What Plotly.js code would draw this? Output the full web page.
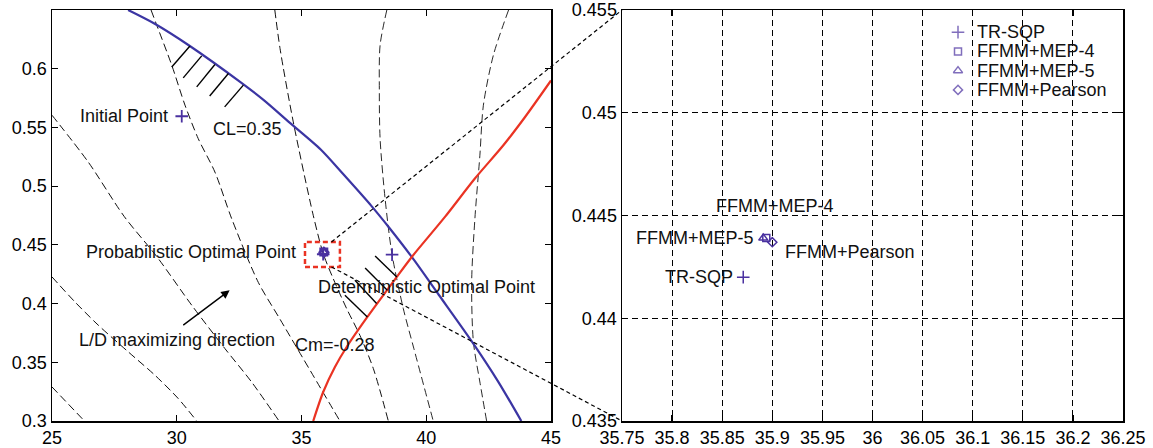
<!DOCTYPE html>
<html><head><meta charset="utf-8">
<script src="https://cdn.plot.ly/plotly-3.0.1.min.js"></script>
<style>html,body{margin:0;padding:0;background:#fff}#chart{width:1153px;height:448px}</style>
</head><body><div id="chart"></div>
<script>
// ---------- DATA ----------
// Lift constraint CL = 0.35 (blue)
const clX = [28.05, 29.1, 30.48, 32.62, 33.5, 34.5, 35.77, 36.66, 37.8, 38.5, 39.42, 40.5, 41.9, 42.87, 43.81];
const clY = [0.65, 0.6385, 0.62, 0.5875, 0.573, 0.5545, 0.5312, 0.5105, 0.4832, 0.465, 0.4397, 0.4075, 0.3655, 0.334, 0.30];
// Moment constraint Cm = -0.28 (red)
const cmX = [35.47, 35.87, 36.34, 36.81, 37.64, 38.82, 39.42, 40.75, 41.95, 43.09, 43.96, 45.0];
const cmY = [0.30, 0.3247, 0.346, 0.363, 0.3886, 0.4227, 0.4397, 0.4738, 0.5065, 0.5348, 0.5589, 0.590];
// L/D contours (dashed, shallow)
const ld1X = [25, 26.3];               const ld1Y = [0.329, 0.30];
const ld2X = [25, 25.92, 26.86, 28.06, 29.13, 30.06, 30.8];
const ld2Y = [0.4227, 0.4014, 0.3815, 0.3588, 0.3389, 0.3191, 0.30];
const ld3X = [25, 26.45, 27.9, 29.2, 30.6, 31.93, 33.0, 34.1];
const ld3Y = [0.5604, 0.5206, 0.474, 0.440, 0.3986, 0.3617, 0.3332, 0.30];
// Cm contours (dashed, steep)
const c1X = [28.97, 29.2, 29.8, 30.33, 30.86, 31.53, 32.2, 33.27, 34.13, 36.54];
const c1Y = [0.65, 0.637, 0.603, 0.569, 0.5405, 0.512, 0.4724, 0.418, 0.387, 0.30];
const c2X = [33.93, 34.14, 34.67, 35.47, 35.87, 36.27, 36.81, 37.34, 37.88, 38.48];
const c2Y = [0.65, 0.6172, 0.5547, 0.4752, 0.4426, 0.4213, 0.3957, 0.373, 0.3446, 0.30];
const c3X = [38.42, 38.15, 38.12, 38.15, 38.35, 38.63, 39.08, 39.5, 40.28];
const c3Y = [0.65, 0.62, 0.58, 0.5405, 0.4894, 0.4417, 0.3957, 0.362, 0.30];
const c4X = [43.3, 42.69, 42.29, 42.15, 41.95, 41.82, 41.89, 42.15, 42.42];
const c4Y = [0.65, 0.6115, 0.5689, 0.5263, 0.4724, 0.4184, 0.3673, 0.3332, 0.30];
// Hatching marks on the constraints
const hatchUpX0 = [30.53, 31.0, 31.53, 32.07, 32.67];
const hatchUpY0 = [0.6194, 0.6109, 0.6036, 0.5959, 0.586];
const hatchUpX1 = [29.8, 30.26, 30.8, 31.32, 31.92];
const hatchUpY1 = [0.6015, 0.5922, 0.5845, 0.5768, 0.5675];
const hatchLoX0 = [37.95, 37.55, 37.14, 36.74];
const hatchLoY0 = [0.4405, 0.4303, 0.4198, 0.4071];
const hatchLoX1 = [38.82, 38.44, 38.01, 37.64];
const hatchLoY1 = [0.4227, 0.4113, 0.40, 0.3886];
// Points
const initialPoint = [30.2, 0.5595];
const deterministicPoint = [38.63, 0.4417];
const methods = ['TR-SQP', 'FFMM+MEP-4', 'FFMM+MEP-5', 'FFMM+Pearson'];
const methodX = [35.871, 35.894, 35.891, 35.900];
const methodY = [0.4420, 0.4439, 0.4439, 0.4437];
const methodSymbols = ['cross-thin-open', 'square-open', 'triangle-up-open', 'diamond-open'];
// Zoom box and arrow
const zoomBoxX = [35.14, 36.54];
const zoomBoxY = [0.4312, 0.4525];
const connectorStartX = 36.2;
const ldArrowTail = [30.2, 0.3807];
const ldArrowHead = [32.12, 0.4113];
// Axes / ticks
const leftXRange = [25, 45];
const leftYRange = [0.3, 0.65];
const leftXTicks = [25, 30, 35, 40, 45];
const leftYTicks = [0.3, 0.35, 0.4, 0.45, 0.5, 0.55, 0.6];
const leftYTickText = ['0.3', '0.35', '0.4', '0.45', '0.5', '0.55', '0.6'];
const rightXRange = [35.75, 36.25];
const rightYRange = [0.435, 0.455];
const rightXTicks = [35.75, 35.8, 35.85, 35.9, 35.95, 36, 36.05, 36.1, 36.15, 36.2, 36.25];
const rightXTickText = ['35.75', '35.8', '35.85', '35.9', '35.95', '36', '36.05', '36.1', '36.15', '36.2', '36.25'];
const rightYTicks = [0.435, 0.44, 0.445, 0.45, 0.455];
const rightYTickText = ['0.435', '0.44', '0.445', '0.45', '0.455'];

// ---------- STYLE ----------
const FONT = 'Liberation Sans, Arial, Helvetica, sans-serif';
const W = 1153, H = 448, PLOT_TOP = 10, PLOT_H = 411;
const leftDomain = [52 / W, 551 / W];
const rightDomain = [622 / W, 1123 / W];
const legendXDomain = [958 / W, 1100 / W];
const legendYDomain = [1 - (99.5 - PLOT_TOP) / PLOT_H, 1 - (22.5 - PLOT_TOP) / PLOT_H];
const PURPLE = '#4a31a0';
const BLUE = '#3b35a3';
const RED = '#ea3323';
const symSize = [9, 7, 8, 7];

function segs(x0, y0, x1, y1) {
  const xs = [], ys = [];
  for (let i = 0; i < x0.length; i++) { xs.push(x0[i], x1[i], null); ys.push(y0[i], y1[i], null); }
  return {xs, ys};
}
function dashed(x, y, w) {
  return {x, y, xaxis: 'x', yaxis: 'y', mode: 'lines', hoverinfo: 'skip',
    line: {color: '#111', width: w || 1, dash: '8px,4px', shape: 'spline', smoothing: 0.8}};
}

const traces = [];
traces.push(dashed(ld1X, ld1Y));
traces.push(dashed(ld2X, ld2Y));
traces.push(dashed(ld3X, ld3Y));
traces.push(dashed(c1X, c1Y));
traces.push(dashed(c2X, c2Y));
traces.push(dashed(c3X, c3Y, 0.9));
traces.push(dashed(c4X, c4Y, 0.9));
traces.push({x: clX, y: clY, xaxis: 'x', yaxis: 'y', mode: 'lines',
  line: {color: BLUE, width: 2.2, shape: 'spline', smoothing: 0.8}});
traces.push({x: cmX, y: cmY, xaxis: 'x', yaxis: 'y', mode: 'lines',
  line: {color: RED, width: 2.2, shape: 'spline', smoothing: 0.8}});
const hu = segs(hatchUpX0, hatchUpY0, hatchUpX1, hatchUpY1);
const hl = segs(hatchLoX0, hatchLoY0, hatchLoX1, hatchLoY1);
traces.push({x: hu.xs, y: hu.ys, xaxis: 'x', yaxis: 'y', mode: 'lines', line: {color: '#000', width: 1.4}});
traces.push({x: hl.xs, y: hl.ys, xaxis: 'x', yaxis: 'y', mode: 'lines', line: {color: '#000', width: 1.4}});
traces.push({x: [initialPoint[0], deterministicPoint[0]], y: [initialPoint[1], deterministicPoint[1]],
  xaxis: 'x', yaxis: 'y', mode: 'markers',
  marker: {symbol: 'cross-thin-open', size: 9, color: PURPLE, line: {color: PURPLE, width: 1.8}}});
// method points: left panel (overlapping star), right panel (zoom), and legend column
for (let i = 0; i < methods.length; i++) {
  traces.push({x: [methodX[i]], y: [methodY[i]], xaxis: 'x', yaxis: 'y', mode: 'markers',
    marker: {symbol: methodSymbols[i], size: symSize[i], color: PURPLE, line: {color: PURPLE, width: 2}}});
  traces.push({x: [methodX[i]], y: [methodY[i]], xaxis: 'x2', yaxis: 'y2', mode: 'markers', name: methods[i],
    marker: {symbol: methodSymbols[i], size: symSize[i], color: PURPLE, line: {color: PURPLE, width: 1.5}}});
}
traces.push({x: methods.map(() => 0), y: methods, xaxis: 'x3', yaxis: 'y3', mode: 'markers', cliponaxis: false,
  marker: {symbol: methodSymbols, size: symSize, color: PURPLE, line: {color: PURPLE, width: 1.5}}});

function axisStyle(extra) {
  return Object.assign({showline: true, linecolor: '#000', linewidth: 1.5, mirror: 'ticks', ticks: 'inside',
    ticklen: 6, tickwidth: 1.2, tickcolor: '#000', showgrid: false, zeroline: false,
    tickfont: {family: FONT, size: 18, color: '#000'}}, extra);
}
function px(dom, range, v) { return dom[0] + (v - range[0]) / (range[1] - range[0]) * (dom[1] - dom[0]); }
function py(range, v) { return (v - range[0]) / (range[1] - range[0]); }

const txt = (o) => Object.assign({showarrow: false, font: {family: FONT, size: 18, color: '#111'}}, o);
const annotations = [
  txt({xref: 'x', yref: 'y', x: initialPoint[0], y: initialPoint[1], xanchor: 'right', xshift: -12, text: 'Initial Point'}),
  txt({xref: 'x', yref: 'y', x: 31.37, y: 0.5484, xanchor: 'left', text: 'CL=0.35'}),
  txt({xref: 'x', yref: 'y', x: methodX[0], y: methodY[2], xanchor: 'right', xshift: -25, text: 'Probabilistic Optimal Point'}),
  txt({xref: 'x', yref: 'y', x: 35.58, y: 0.4141, xanchor: 'left', text: 'Deterministic Optimal Point'}),
  txt({xref: 'x', yref: 'y', x: 26.0, y: 0.3687, xanchor: 'left', text: 'L/D maximizing direction'}),
  txt({xref: 'x', yref: 'y', x: 34.67, y: 0.365, xanchor: 'left', text: 'Cm=-0.28'}),
  {xref: 'x', yref: 'y', axref: 'x', ayref: 'y', x: ldArrowHead[0], y: ldArrowHead[1], ax: ldArrowTail[0], ay: ldArrowTail[1],
    showarrow: true, arrowhead: 2, arrowsize: 1.2, arrowwidth: 1.4, arrowcolor: '#000', text: ''},
  txt({xref: 'x2', yref: 'y2', x: methodX[0], y: methodY[0], xanchor: 'right', xshift: -8, text: 'TR-SQP'}),
  txt({xref: 'x2', yref: 'y2', x: methodX[1], y: methodY[1], xanchor: 'center', xshift: 9, yshift: 32, text: 'FFMM+MEP-4'}),
  txt({xref: 'x2', yref: 'y2', x: methodX[2], y: methodY[2], xanchor: 'right', xshift: -7, text: 'FFMM+MEP-5'}),
  txt({xref: 'x2', yref: 'y2', x: methodX[3], y: methodY[3], xanchor: 'left', xshift: 11, yshift: -10, text: 'FFMM+Pearson'})
];
methods.forEach((m) => annotations.push(txt({xref: 'x3', yref: 'y3', x: 0, y: m, xanchor: 'left', xshift: 17, text: m})));

const shapes = [
  {type: 'rect', xref: 'x', yref: 'y', x0: zoomBoxX[0], x1: zoomBoxX[1], y0: zoomBoxY[0], y1: zoomBoxY[1],
    line: {color: RED, width: 2.5, dash: '5px,3px'}},
  {type: 'line', xref: 'paper', yref: 'paper',
    x0: px(leftDomain, leftXRange, connectorStartX), y0: py(leftYRange, zoomBoxY[1]),
    x1: px(rightDomain, rightXRange, rightXRange[0]), y1: py(rightYRange, rightYRange[1]),
    line: {color: '#000', width: 1.2, dash: '4px,3px'}},
  {type: 'line', xref: 'paper', yref: 'paper',
    x0: px(leftDomain, leftXRange, connectorStartX), y0: py(leftYRange, zoomBoxY[0]),
    x1: px(rightDomain, rightXRange, rightXRange[0]), y1: py(rightYRange, rightYRange[0]),
    line: {color: '#000', width: 1.2, dash: '4px,3px'}}
];

const layout = {
  width: W, height: H, margin: {l: 0, r: 0, t: PLOT_TOP, b: H - PLOT_TOP - PLOT_H},
  paper_bgcolor: '#fff', plot_bgcolor: 'rgba(0,0,0,0)', font: {family: FONT, size: 18, color: '#000'},
  showlegend: false,
  xaxis: axisStyle({domain: leftDomain, range: leftXRange, tickvals: leftXTicks, anchor: 'y'}),
  yaxis: axisStyle({domain: [0, 1], range: leftYRange, tickvals: leftYTicks, ticktext: leftYTickText, anchor: 'x'}),
  xaxis2: axisStyle({domain: rightDomain, range: rightXRange, tickvals: rightXTicks, ticktext: rightXTickText, anchor: 'y2',
    showgrid: true, gridcolor: '#000', gridwidth: 1, griddash: '6px,4px'}),
  yaxis2: axisStyle({domain: [0, 1], range: rightYRange, tickvals: rightYTicks, ticktext: rightYTickText, anchor: 'x2',
    showgrid: true, gridcolor: '#000', gridwidth: 1, griddash: '6px,4px'}),
  xaxis3: {domain: legendXDomain, range: [0, 1], visible: false, anchor: 'y3'},
  yaxis3: {domain: legendYDomain, type: 'category', categoryarray: methods, range: [3.5, -0.5], visible: false, anchor: 'x3'},
  annotations, shapes
};
Plotly.newPlot('chart', traces, layout, {displayModeBar: false, staticPlot: true});
</script></body></html>
